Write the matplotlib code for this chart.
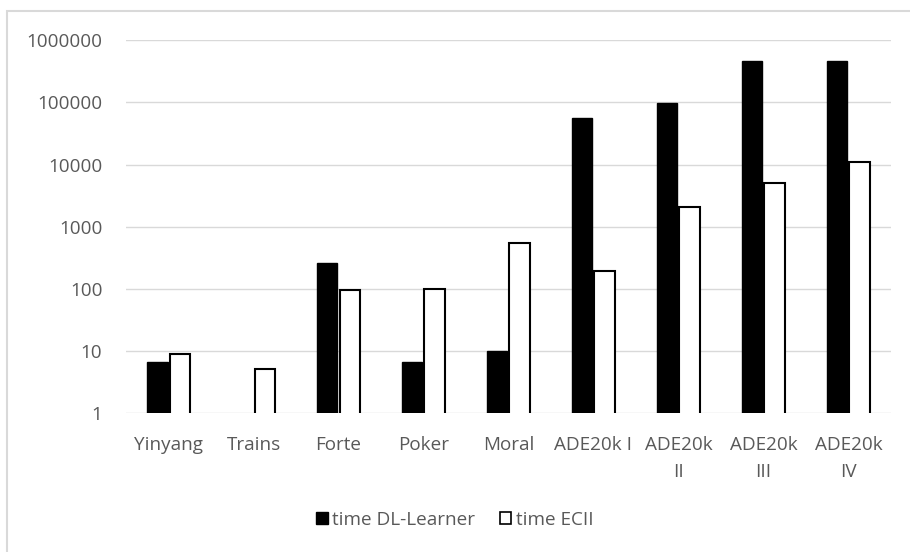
import numpy as np
import matplotlib
matplotlib.use("Agg")
import matplotlib.pyplot as plt
from matplotlib.ticker import FixedLocator, FixedFormatter
from matplotlib.patches import Rectangle

categories = ["Yinyang", "Trains", "Forte", "Poker", "Moral",
              "ADE20k I", "ADE20k\nII", "ADE20k\nIII", "ADE20k\nIV"]
time_dl_learner = [6.8, np.nan, 257, 6.8, 10, 56500, 98000, 466000, 466000]
time_ecii = [8.9, 5.1, 96, 100, 550, 195, 2050, 5100, 11100]
yticks = [1, 10, 100, 1000, 10000, 100000, 1000000]

plt.rcParams['font.family'] = ['Open Sans', 'DejaVu Sans']
fs = 13.6
txt_color = "#595959"

fig = plt.figure(figsize=(9.10, 5.52), dpi=100)
ax = fig.add_axes([0.1385, 0.2513, 0.8405, 0.6757])

x = np.arange(len(categories))
w = 0.24
ax.bar(x - w / 2 - 0.012, time_dl_learner, width=w, color="black",
       edgecolor="black", linewidth=1, label="time DL-Learner", zorder=3)
ax.bar(x + w / 2 + 0.012, time_ecii, width=w, color="white",
       edgecolor="black", linewidth=1.5, label="time ECII", zorder=3)

ax.set_yscale("log")
ax.set_ylim(1, 1000000)
ax.set_xlim(-0.5, len(categories) - 0.5)
ax.yaxis.set_major_locator(FixedLocator(yticks))
ax.yaxis.set_major_formatter(FixedFormatter([str(t) for t in yticks]))
ax.yaxis.set_minor_locator(FixedLocator([]))
ax.set_xticks(x)
ax.set_xticklabels(categories)
ax.tick_params(axis="both", length=0, labelsize=fs, labelcolor=txt_color)
ax.tick_params(axis="y", pad=17)
ax.tick_params(axis="x", pad=16)
for lbl in ax.get_xticklabels():
    lbl.set_linespacing(1.65)
ax.grid(axis="y", color="#d9d9d9", linewidth=1, zorder=0)
for s in ax.spines.values():
    s.set_visible(False)

# outer chart frame (cropped at right/bottom)
fig.patches.append(Rectangle((7 / 910, -0.05), 1.1, 1 - 11 / 552 + 0.05,
                             transform=fig.transFigure, fill=False,
                             edgecolor="#d9d9d9", linewidth=1.5))

handles = [Rectangle((0, 0), 1, 1, facecolor="black", edgecolor="black"),
           Rectangle((0, 0), 1, 1, facecolor="white", edgecolor="black", linewidth=1.2)]
fig.legend(handles, ["time DL-Learner", "time ECII"], loc="center",
           bbox_to_anchor=(0.5, 1 - 520 / 552), ncol=2, frameon=False,
           fontsize=fs, labelcolor=txt_color, handlelength=0.6,
           handleheight=0.6, handletextpad=0.25, columnspacing=1.3)

fig.savefig("out.png", dpi=100)
